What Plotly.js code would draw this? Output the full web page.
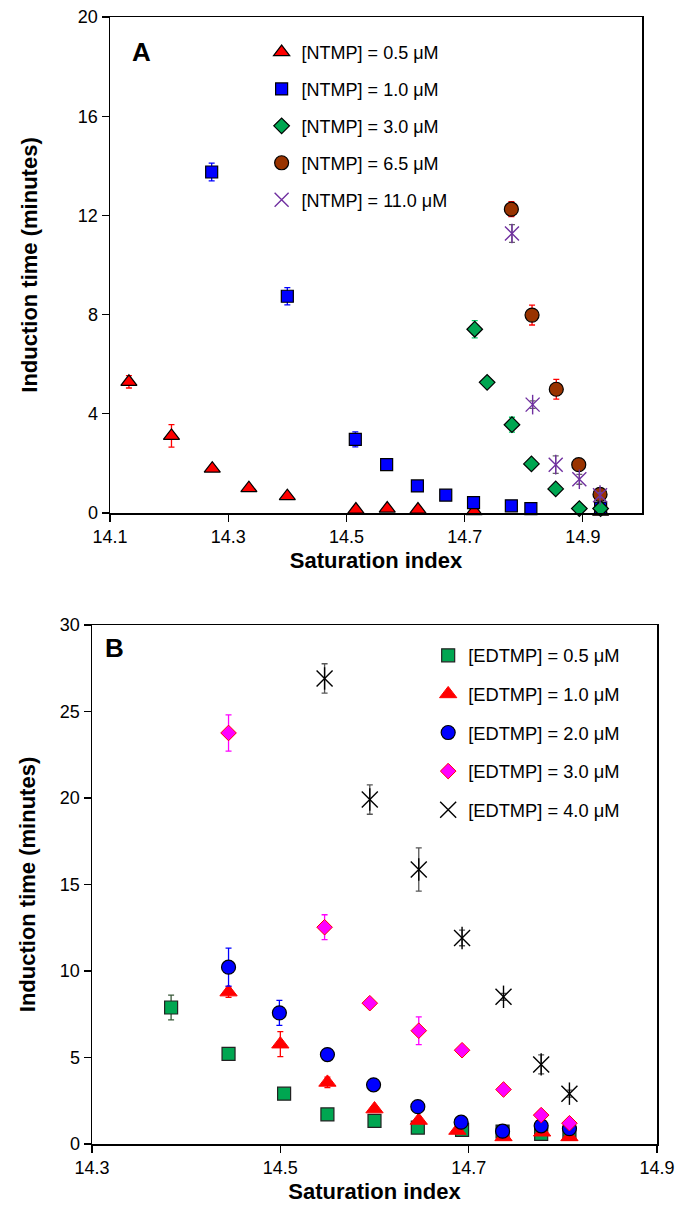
<!DOCTYPE html>
<html>
<head>
<meta charset="utf-8">
<script src="https://cdn.plot.ly/plotly-3.0.1.min.js"></script>
<style>
  html, body { margin: 0; padding: 0; background: #fff; }
  #chartA { position: absolute; left: 0; top: 0; width: 677px; height: 590px; }
  #chartB { position: absolute; left: 0; top: 590px; width: 677px; height: 623px; }
</style>
</head>
<body>
<div id="chartA"></div>
<div id="chartB"></div>
<script>
// ---------- Panel A data (NTMP) ----------
const A_names = ["[NTMP] = 0.5 μM", "[NTMP] = 1.0 μM", "[NTMP] = 3.0 μM", "[NTMP] = 6.5 μM", "[NTMP] = 11.0 μM"];
const A_x_05 = [14.132, 14.204, 14.273, 14.335, 14.400, 14.516, 14.569, 14.621, 14.716, 14.930];
const A_y_05 = [5.29, 3.11, 1.79, 1.00, 0.68, 0.14, 0.18, 0.14, 0.07, 0.05];
const A_e_05 = [0.25, 0.45, 0.10, 0.12, 0.05, 0.05, 0.05, 0.05, 0.05, 0.02];
const A_x_10 = [14.272, 14.400, 14.515, 14.568, 14.620, 14.668, 14.715, 14.779, 14.812, 14.930];
const A_y_10 = [13.75, 8.74, 2.97, 1.95, 1.09, 0.72, 0.42, 0.29, 0.18, 0.20];
const A_e_10 = [0.36, 0.35, 0.30, 0.08, 0.05, 0.05, 0.05, 0.05, 0.05, 0.05];
const A_x_30 = [14.717, 14.738, 14.780, 14.813, 14.854, 14.894, 14.930];
const A_y_30 = [7.41, 5.27, 3.56, 1.98, 0.97, 0.18, 0.18];
const A_e_30 = [0.35, 0.08, 0.30, 0.15, 0.05, 0.05, 0.05];
const A_x_65 = [14.779, 14.814, 14.855, 14.893, 14.929];
const A_y_65 = [12.25, 7.98, 4.99, 1.95, 0.75];
const A_e_65 = [0.30, 0.40, 0.40, 0.10, 0.10];
const A_x_110 = [14.780, 14.815, 14.854, 14.894, 14.929];
const A_y_110 = [11.27, 4.37, 1.95, 1.36, 0.72];
const A_e_110 = [0.36, 0.15, 0.35, 0.20, 0.10];

// ---------- Panel B data (EDTMP) ----------
const B_names = ["[EDTMP] = 0.5 μM", "[EDTMP] = 1.0 μM", "[EDTMP] = 2.0 μM", "[EDTMP] = 3.0 μM", "[EDTMP] = 4.0 μM"];
const B_x_05 = [14.384, 14.445, 14.504, 14.550, 14.600, 14.646, 14.693, 14.736, 14.777, 14.807];
const B_y_05 = [7.89, 5.21, 2.91, 1.71, 1.34, 0.95, 0.82, 0.72, 0.58, 0.58];
const B_e_05 = [0.72, 0.10, 0.10, 0.10, 0.10, 0.10, 0.10, 0.10, 0.10, 0.10];
const B_x_10 = [14.445, 14.500, 14.550, 14.600, 14.647, 14.688, 14.737, 14.778, 14.807];
const B_y_10 = [8.78, 5.77, 3.56, 2.02, 1.36, 0.78, 0.41, 0.68, 0.41];
const B_e_10 = [0.30, 0.72, 0.30, 0.10, 0.10, 0.10, 0.10, 0.10, 0.10];
const B_x_20 = [14.445, 14.499, 14.550, 14.599, 14.646, 14.692, 14.736, 14.777, 14.807];
const B_y_20 = [10.22, 7.58, 5.17, 3.42, 2.16, 1.26, 0.74, 1.05, 0.89];
const B_e_20 = [1.10, 0.72, 0.10, 0.10, 0.10, 0.10, 0.10, 0.10, 0.10];
const B_x_30 = [14.445, 14.547, 14.595, 14.647, 14.693, 14.737, 14.777, 14.807];
const B_y_30 = [23.76, 12.53, 8.14, 6.55, 5.42, 3.15, 1.67, 1.20];
const B_e_30 = [1.05, 0.72, 0.15, 0.80, 0.10, 0.10, 0.10, 0.10];
const B_x_40 = [14.547, 14.595, 14.647, 14.693, 14.737, 14.777, 14.807];
const B_y_40 = [26.91, 19.91, 15.87, 11.91, 8.51, 4.60, 2.91];
const B_e_40 = [0.85, 0.85, 1.25, 0.45, 0.20, 0.55, 0.20];

const FONT = "Liberation Sans, Arial, Helvetica, sans-serif";

function pts(name, x, y, e, symbol, size, fill, lineColor, lineW, errColor, group, showLegend) {
  return {
    type: "scatter", mode: "markers", name: name, x: x, y: y,
    legendgroup: group, showlegend: showLegend,
    cliponaxis: false,
    marker: { symbol: symbol, size: size, color: fill, line: { color: lineColor, width: lineW } },
    error_y: e ? { type: "data", array: e, visible: true, color: errColor, thickness: 1.3, width: 3 } : { visible: false }
  };
}

const tracesA = [
  pts(A_names[0], A_x_05, A_y_05, A_e_05, "triangle-up", 14, "#FF0000", "#000000", 1.2, "#FF0000", "a1", true),
  pts(A_names[1], A_x_10, A_y_10, A_e_10, "square", 12, "#0000FF", "#000000", 1.2, "#0000FF", "a2", true),
  pts(A_names[2], A_x_30, A_y_30, A_e_30, "diamond", 12, "#00A651", "#000000", 1.2, "#00CC66", "a3", true),
  pts(A_names[3], A_x_65, A_y_65, A_e_65, "circle", 14, "#993300", "#000000", 1.2, "#FF0000", "a4", true),
  pts(A_names[4], A_x_110, A_y_110, A_e_110, "x-thin-open", 14, "#7030A0", "#7030A0", 1.4, "#666666", "a5", true),
  pts(A_names[4], A_x_110, A_y_110, null, "line-ns-open", 14, "#7030A0", "#7030A0", 1.4, "#666666", "a5", false)
];

const tracesB = [
  pts(B_names[0], B_x_05, B_y_05, B_e_05, "square", 13, "#00A651", "#222222", 1.2, "#3A5A3A", "b1", true),
  pts(B_names[1], B_x_10, B_y_10, B_e_10, "triangle-up", 15, "#FF0000", "#FF0000", 1, "#FF0000", "b2", true),
  pts(B_names[2], B_x_20, B_y_20, B_e_20, "circle", 14, "#0000FF", "#000000", 1.2, "#0000FF", "b3", true),
  pts(B_names[3], B_x_30, B_y_30, B_e_30, "diamond", 12, "#FF00FF", "#FF0000", 1, "#FF00FF", "b4", true),
  pts(B_names[4], B_x_40, B_y_40, B_e_40, "x-thin-open", 16, "#000000", "#000000", 1.4, "#555555", "b5", true),
  pts(B_names[4], B_x_40, B_y_40, null, "line-ns-open", 16, "#000000", "#000000", 1.4, "#555555", "b5", false)
];

function axis(range, dtick, tick0, titleText, standoff) {
  return {
    range: range, dtick: dtick, tick0: tick0, tickmode: "linear",
    showgrid: false, zeroline: false,
    showline: true, linecolor: "#000", linewidth: 1.5, mirror: true,
    ticks: "outside", ticklen: 7, tickcolor: "#000", tickwidth: 1.2,
    tickfont: { family: FONT, size: 18, color: "#000" },
    title: { text: "<b>" + titleText + "</b>", font: { family: FONT, size: 22, color: "#000" }, standoff: standoff }
  };
}

const layoutA = {
  width: 677, height: 590,
  margin: { l: 110, r: 35, t: 17, b: 77 },
  paper_bgcolor: "#fff", plot_bgcolor: "#fff",
  font: { family: FONT, color: "#000" },
  xaxis: Object.assign(axis([14.1, 15.0], 0.2, 14.1, "Saturation index", 6), { tickformat: ".1f" }),
  yaxis: axis([0, 20], 4, 0, "Induction time (minutes)", 34),
  legend: {
    x: 0.285, y: 0.966, xanchor: "left", yanchor: "top",
    bgcolor: "rgba(0,0,0,0)", borderwidth: 0,
    font: { family: FONT, size: 18, color: "#000" },
    traceorder: "grouped", tracegroupgap: 10.5, itemwidth: 30
  },
  annotations: [{
    text: "<b>A</b>", x: 0.06, y: 0.93, xref: "paper", yref: "paper",
    xanchor: "center", yanchor: "middle", showarrow: false,
    font: { family: FONT, size: 26, color: "#000" }
  }],
  showlegend: true
};

const layoutB = {
  width: 677, height: 623,
  margin: { l: 92, r: 20, t: 35, b: 69 },
  paper_bgcolor: "#fff", plot_bgcolor: "#fff",
  font: { family: FONT, color: "#000" },
  xaxis: Object.assign(axis([14.3, 14.9], 0.2, 14.3, "Saturation index", 6), { tickformat: ".1f" }),
  yaxis: axis([0, 30], 5, 0, "Induction time (minutes)", 18),
  legend: {
    x: 0.595, y: 0.977, xanchor: "left", yanchor: "top",
    bgcolor: "rgba(0,0,0,0)", borderwidth: 0,
    font: { family: FONT, size: 18.3, color: "#000" },
    traceorder: "grouped", tracegroupgap: 11.8, itemwidth: 30
  },
  annotations: [{
    text: "<b>B</b>", x: 0.04, y: 0.955, xref: "paper", yref: "paper",
    xanchor: "center", yanchor: "middle", showarrow: false,
    font: { family: FONT, size: 26, color: "#000" }
  }],
  showlegend: true
};

Plotly.newPlot("chartA", tracesA, layoutA, { staticPlot: true, displayModeBar: false });
Plotly.newPlot("chartB", tracesB, layoutB, { staticPlot: true, displayModeBar: false });
</script>
</body>
</html>
